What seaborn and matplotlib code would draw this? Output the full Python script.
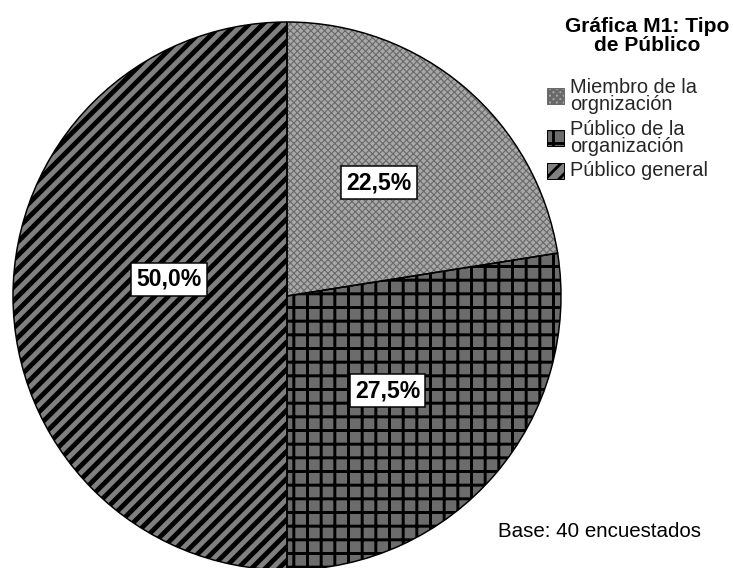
import numpy as np
import matplotlib
matplotlib.use("Agg")
import matplotlib.pyplot as plt
import seaborn as sns

# ---------------- data ----------------
categories = ["Miembro de la\norgnización", "Público de la\norganización", "Público general"]
percentages = [22.5, 27.5, 50.0]
pct_labels = ["22,5%", "27,5%", "50,0%"]
chart_title = "Gráfica M1: Tipo\nde Público"
base_note = "Base: 40 encuestados"

# ---------------- style ----------------
face_colors = ["#a8a8a8", "#6c6c6c", "#808080"]
hatch_colors = ["#6a6a6a", "#000000", "#000000"]
hatches = ["xxxx", "+", "//"]
hatch_widths = [1.0, 2.6, 4.2]
label_radius = [0.533, 0.505, 0.435]
label_angle_shift = [1.5, -2.8, -8.0]

DPI = 82
W, H = 733, 568


def pt(px):
    return px * 72.0 / DPI


sns.set_theme(style="white")
plt.rcParams["font.family"] = ["Liberation Sans", "DejaVu Sans"]
plt.rcParams["hatch.linewidth"] = 2.5

fig = plt.figure(figsize=(W / DPI, H / DPI), dpi=DPI)
fig.patch.set_facecolor("white")

cx, cy, R = 287, 296, 274
M = 1.02
ax = fig.add_axes([(cx - R * M) / W, (H - cy - R * M) / H, 2 * R * M / W, 2 * R * M / H])

wedges, _ = ax.pie(percentages, colors=face_colors, startangle=90,
                   counterclock=False, wedgeprops=dict(linewidth=0))
for w, hc, ht, hw in zip(wedges, hatch_colors, hatches, hatch_widths):
    w.set_edgecolor(hc)
    w.set_hatch(ht)
    w.set_linewidth(0)
    if hasattr(w, "set_hatch_linewidth"):
        w.set_hatch_linewidth(hw)

# outlines
ax.pie(percentages, colors=["none"] * len(percentages), startangle=90,
       counterclock=False,
       wedgeprops=dict(edgecolor="black", linewidth=pt(1.5), facecolor="none"))

ax.set_xlim(-M, M)
ax.set_ylim(-M, M)
ax.set_axis_off()

for w, lab, rf, sh in zip(wedges, pct_labels, label_radius, label_angle_shift):
    ang = np.deg2rad((w.theta1 + w.theta2) / 2.0 + sh)
    ax.text(rf * np.cos(ang), rf * np.sin(ang), lab, ha="center", va="center",
            fontsize=pt(23), fontweight="bold", color="black", zorder=5,
            bbox=dict(boxstyle="square,pad=0.22", fc="white", ec="black",
                      lw=pt(1.5)))

fig.text(647 / W, 1 - 17 / H, chart_title, ha="center", va="top",
         fontsize=pt(21), fontweight="bold", linespacing=0.97,
         multialignment="center", color="black")

leg = fig.legend(wedges, categories, loc="upper left",
                 bbox_to_anchor=(547 / W, 1 - 78 / H), frameon=False,
                 borderpad=0, borderaxespad=0, handlelength=17 / 20,
                 handleheight=17 / 20, handletextpad=6 / 20,
                 labelspacing=0.3, prop={"size": pt(20)})
for t in leg.get_texts():
    t.set_linespacing(0.85)
for h in leg.legend_handles:
    h.set_linewidth(pt(1.0))
try:
    for col in leg._legend_handle_box.get_children():
        for row in col.get_children():
            row.align = "center"
except Exception:
    pass

fig.text(498 / W, 1 - 537 / H, base_note, ha="left", va="baseline",
         fontsize=pt(20.5), color="black")

fig.savefig("out.png", dpi=DPI, facecolor="white")
